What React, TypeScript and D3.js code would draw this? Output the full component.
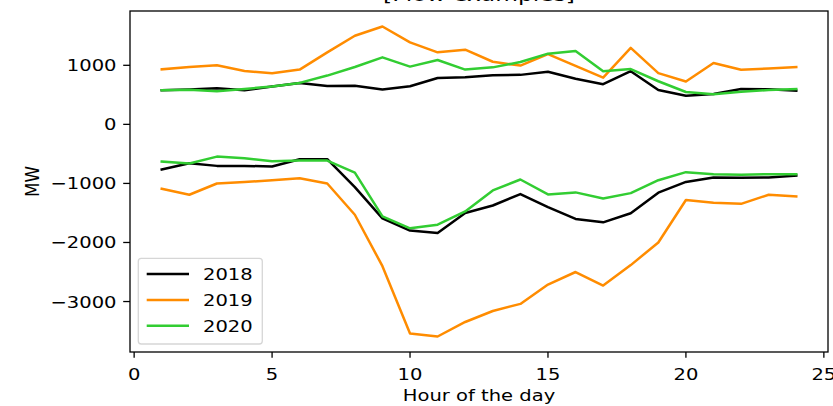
import React from 'react'
import * as d3 from 'd3'

const hours = [1, 2, 3, 4, 5, 6, 7, 8, 9, 10, 11, 12, 13, 14, 15, 16, 17, 18, 19, 20, 21, 22, 23, 24]

const years = ['2018', '2019', '2020']
const colors = ['#000000', '#ff8c00', '#32cd32']

const max2018 = [578, 590, 612, 578, 640, 702, 650, 655, 590, 646, 786, 798, 830, 838, 890, 771, 680, 900, 582, 485, 514, 599, 594, 570]
const max2019 = [932, 971, 1000, 904, 865, 927, 1219, 1500, 1657, 1388, 1219, 1264, 1060, 995, 1190, 990, 790, 1295, 867, 725, 1040, 925, 945, 970]
const max2020 = [578, 584, 561, 600, 640, 702, 826, 972, 1135, 978, 1090, 927, 965, 1056, 1197, 1243, 900, 936, 730, 548, 508, 553, 582, 599]

const min2018 = [-765, -658, -703, -703, -714, -590, -590, -1062, -1592, -1799, -1838, -1501, -1374, -1180, -1403, -1602, -1659, -1506, -1157, -975, -900, -905, -900, -867]
const min2019 = [-1091, -1192, -1001, -978, -945, -911, -1001, -1530, -2401, -3541, -3592, -3346, -3160, -3040, -2713, -2500, -2730, -2383, -2000, -1280, -1329, -1346, -1192, -1221]
const min2020 = [-630, -664, -546, -574, -624, -613, -613, -816, -1558, -1760, -1698, -1474, -1118, -934, -1186, -1152, -1255, -1164, -946, -809, -843, -855, -843, -843]

const xTicks = [0, 5, 10, 15, 20, 25]
const yTicks = [1000, 0, -1000, -2000, -3000]

const title = '[Flow examples]'
const xLabel = 'Hour of the day'
const yLabel = 'MW'

const W = 833
const H = 406
const margin = { top: 11, right: 5, bottom: 54, left: 130 }
const SX = 1.17 // picture is stretched horizontally
const FONT = '"DejaVu Sans", sans-serif'
const FS = 16.7

function Label({ x, y, anchor = 'middle', size = FS, rotate = 0, children }: any) {
  return (
    <g transform={`translate(${x},${y}) scale(${SX},1) rotate(${rotate})`}>
      <text textAnchor={anchor} fontSize={size} fontFamily={FONT} fill="#000">{children}</text>
    </g>
  )
}

export default function App() {
  const series = [
    { year: 0, values: max2018 }, { year: 0, values: min2018 },
    { year: 1, values: max2019 }, { year: 1, values: min2019 },
    { year: 2, values: max2020 }, { year: 2, values: min2020 },
  ]
  const all = series.flatMap((s) => s.values)
  const [lo, hi] = d3.extent(all) as [number, number]
  const pad = (hi - lo) * 0.05
  const xPad = (d3.max(hours)! - d3.min(hours)!) * 0.05

  const x = d3.scaleLinear()
    .domain([d3.min(hours)! - xPad, d3.max(hours)! + xPad])
    .range([margin.left, W - margin.right])
  const y = d3.scaleLinear()
    .domain([lo - pad, hi + pad])
    .range([H - margin.bottom, margin.top])

  const line = d3.line<number>()
    .x((_, i) => x(hours[i]))
    .y((d) => y(d))

  const x0 = margin.left
  const x1 = W - margin.right
  const y0 = H - margin.bottom
  const y1 = margin.top
  const fmt = (v: number) => (v < 0 ? '\u2212' + Math.abs(v) : String(v))

  // legend layout
  const lg = { x: 138.3, y: 258.3, w: 124, h: 85.7 }
  const rowY = [274, 300, 325.7]

  return (
    <div style={{ position: 'absolute', left: 0, top: 0 }}>
      <svg width={W} height={H} style={{ display: 'block', background: '#fff' }}>
        <Label x={(x0 + x1) / 2} y={1} size={20}>{title}</Label>

        {series.map((s, i) => (
          <path key={i} d={line(s.values) || ''} fill="none" stroke={colors[s.year]}
            strokeWidth={2.5} strokeLinejoin="round" strokeLinecap="square" />
        ))}

        <rect x={x0} y={y1} width={x1 - x0} height={y0 - y1} fill="none" stroke="#000" strokeWidth={1.3} />

        {xTicks.map((t) => (
          <g key={t}>
            <line x1={x(t)} x2={x(t)} y1={y0} y2={y0 + 5.8} stroke="#000" strokeWidth={1.3} />
            <Label x={x(t)} y={380}>{t}</Label>
          </g>
        ))}
        {yTicks.map((t) => (
          <g key={t}>
            <line x1={x0 - 6.8} x2={x0} y1={y(t)} y2={y(t)} stroke="#000" strokeWidth={1.3} />
            <Label x={116.5} y={y(t) + 6} anchor="end">{fmt(t)}</Label>
          </g>
        ))}

        <Label x={(x0 + x1) / 2} y={401}>{xLabel}</Label>
        <Label x={38.5} y={(y0 + y1) / 2} rotate={-90}>{yLabel}</Label>

        <rect x={lg.x} y={lg.y} width={lg.w} height={lg.h} rx={3} fill="#fff" fillOpacity={0.8}
          stroke="#cccccc" strokeOpacity={0.8} strokeWidth={1.3} />
        {years.map((yr, i) => (
          <g key={yr}>
            <line x1={146.7} x2={189} y1={rowY[i]} y2={rowY[i]} stroke={colors[i]} strokeWidth={2.5} />
            <Label x={203} y={rowY[i] + 6} anchor="start">{yr}</Label>
          </g>
        ))}
      </svg>
    </div>
  )
}
